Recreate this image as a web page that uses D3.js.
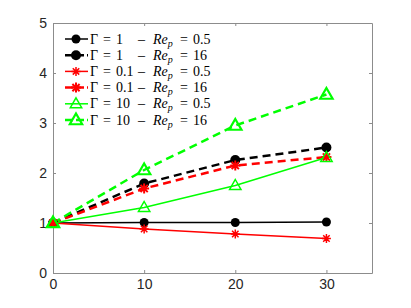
<!DOCTYPE html>
<html>
<head>
<meta charset="utf-8">
<script src="https://cdn.jsdelivr.net/npm/d3@7.9.0/dist/d3.min.js"></script>
<style>
  body { margin: 0; background: #fff; }
  svg { display: block; }
  .leg { font-family: "Liberation Serif", "Times New Roman", serif; font-size: 14px; }
  .tick text { font-family: "Liberation Sans", Arial, sans-serif; font-size: 14px; }
</style>
</head>
<body>
<svg id="chart" width="411" height="308"></svg>
<script>
// x positions and series values
const xValues = [0, 10, 20, 30];
const xTicks = [0, 10, 20, 30];
const yTicks = [0, 1, 2, 3, 4, 5];

const g1Re05 = [1, 1.01, 1.01, 1.02];
const g1Re16 = [1, 1.79, 2.26, 2.51];
const g01Re05 = [1, 0.88, 0.78, 0.69];
const g01Re16 = [1, 1.69, 2.15, 2.32];
const g10Re05 = [1, 1.31, 1.75, 2.31];
const g10Re16 = [1, 2.06, 2.95, 3.57];

const gammaLabels = ["1", "1", "0.1", "0.1", "10", "10"];
const reLabels = ["0.5", "16", "0.5", "16", "0.5", "16"];

const series = [
  { values: g1Re05, color: "#000", dashed: false, marker: "circle" },
  { values: g1Re16, color: "#000", dashed: true, marker: "circle" },
  { values: g01Re05, color: "#ff0000", dashed: false, marker: "star" },
  { values: g01Re16, color: "#ff0000", dashed: true, marker: "star" },
  { values: g10Re05, color: "#00ff00", dashed: false, marker: "triangle" },
  { values: g10Re16, color: "#00ff00", dashed: true, marker: "triangle" },
];

const svg = d3.select("#chart");
const box = { left: 53, right: 372, top: 23, bottom: 273 };

const x = d3.scaleLinear().domain([0, 35]).range([box.left, box.right]);
const y = d3.scaleLinear().domain([0, 5]).range([box.bottom, box.top]);

const axisColor = "#8c8c8c";

// box with ticks on all four sides (matlab style)
const axes = [
  { gen: d3.axisBottom(x).tickValues(xTicks), at: `translate(0,${box.bottom})`, labels: true },
  { gen: d3.axisTop(x).tickValues(xTicks), at: `translate(0,${box.top})`, labels: false },
  { gen: d3.axisLeft(y).tickValues(yTicks), at: `translate(${box.left},0)`, labels: true },
  { gen: d3.axisRight(y).tickValues(yTicks), at: `translate(${box.right},0)`, labels: false },
];

axes.forEach((a) => {
  const g = svg.append("g")
    .attr("transform", a.at)
    .call(a.gen.tickSizeInner(-3).tickSizeOuter(0).tickPadding(6).tickFormat(d3.format("d")));
  g.attr("font-family", null).attr("font-size", null);
  g.select(".domain").attr("stroke", axisColor);
  g.selectAll(".tick line").attr("stroke", axisColor);
  g.selectAll(".tick text").attr("fill", "#262626");
  if (!a.labels) g.selectAll(".tick text").remove();
});

// marker drawing helper
function drawMarker(sel, kind, color, big) {
  if (kind === "circle") {
    sel.append("circle").attr("r", big ? 5 : 4.5).attr("fill", color);
  } else if (kind === "triangle") {
    const s = big ? 6.5 : 6;
    sel.append("path")
      .attr("d", `M0,${-s} L${s * 0.95},${s * 0.65} L${-s * 0.95},${s * 0.65} Z`)
      .attr("fill", "none")
      .attr("stroke", color)
      .attr("stroke-width", big ? 2.2 : 1.5);
  } else {
    const r = big ? 5 : 4.5;
    const d = r * 0.72;
    sel.append("path")
      .attr("d", `M0,${-r}V${r}M${-r},0H${r}M${-d},${-d}L${d},${d}M${-d},${d}L${d},${-d}`)
      .attr("stroke", color)
      .attr("stroke-width", big ? 2 : 1.5)
      .attr("fill", "none");
  }
}

const line = d3.line().x((d, i) => x(xValues[i])).y((d) => y(d));

const plot = svg.append("g");
series.forEach((s) => {
  plot.append("path")
    .datum(s.values)
    .attr("d", line)
    .attr("fill", "none")
    .attr("stroke", s.color)
    .attr("stroke-width", s.dashed ? 2.5 : 1.5)
    .attr("stroke-dasharray", s.dashed ? "8,5" : null);
});
series.forEach((s) => {
  s.values.forEach((v, i) => {
    const m = plot.append("g").attr("transform", `translate(${x(xValues[i])},${y(v)})`);
    drawMarker(m, s.marker, s.color, s.dashed);
  });
});

// legend
const legend = svg.append("g");
series.forEach((s, i) => {
  const ly = 39 + i * 16.2;
  const row = legend.append("g");
  row.append("line")
    .attr("x1", 65).attr("x2", 88).attr("y1", ly).attr("y2", ly)
    .attr("stroke", s.color)
    .attr("stroke-width", s.dashed ? 2.5 : 1.5)
    .attr("stroke-dasharray", s.dashed ? "8,3" : null);
  drawMarker(row.append("g").attr("transform", `translate(76,${ly})`), s.marker, s.color, s.dashed);

  const txt = row.append("text")
    .attr("class", "leg")
    .attr("y", ly + 4.5)
    .attr("fill", "#000");
  txt.append("tspan").attr("x", 90).text("Γ");
  txt.append("tspan").attr("x", 103).text("=");
  txt.append("tspan").attr("x", 116).text(gammaLabels[i]);
  txt.append("tspan").attr("x", 138).text("–");
  txt.append("tspan").attr("x", 153).attr("font-style", "italic").text("Re");
  txt.append("tspan").attr("font-style", "italic").attr("font-size", 10).attr("dy", 3).text("p");
  txt.append("tspan").attr("x", 180).attr("dy", -3).text("=");
  txt.append("tspan").attr("x", 193).text(reLabels[i]);
});
</script>
</body>
</html>
